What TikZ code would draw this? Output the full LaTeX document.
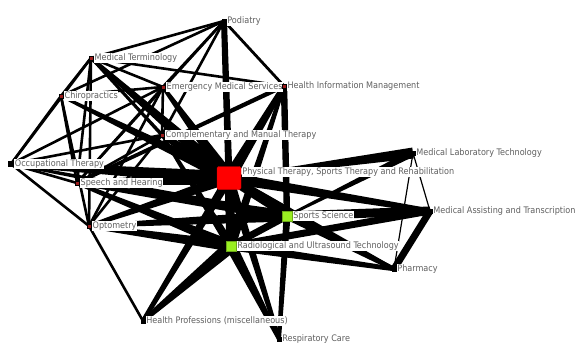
\documentclass[tikz,border=0pt]{standalone}
\usepackage{fontspec}
\setmainfont{DejaVu Sans Condensed}
\usetikzlibrary{calc}
\pgfdeclarelayer{back}
\pgfdeclarelayer{bg}
\pgfsetlayers{back,bg,main}
\definecolor{lblgray}{HTML}{606060}
\definecolor{dotred}{HTML}{9A1B1B}
\definecolor{ptred}{HTML}{FF0000}
\definecolor{lime}{HTML}{99EE22}
\tikzset{
  mk/.style={rectangle, draw=black, line width=0.4pt, fill=dotred, minimum size=4.5pt, inner sep=0pt},
  mkb/.style={rectangle, draw=black, line width=0.4pt, fill=black, minimum size=4pt, inner sep=0pt},
  mkg/.style={rectangle, draw=lime!70!black, line width=0.4pt, fill=lime, minimum size=10pt, inner sep=0pt},
  mkr/.style={rectangle, rounded corners=1.5pt, draw=ptred!80!black, line width=0.4pt, fill=ptred, minimum width=24pt, minimum height=23pt, inner sep=0pt},
  lbl/.style={font=\fontsize{9.0}{10}\selectfont, text=lblgray, fill=white, inner sep=0.5pt, label distance=0.5pt},
  edgefill/.style={fill=black},
}
\newcommand\tedge[4]{\fill[edgefill] ($(#1)!#3pt!90:(#2)$) -- ($(#2)!#4pt!-90:(#1)$) -- ($(#2)!#4pt!90:(#1)$) -- ($(#1)!#3pt!-90:(#2)$) -- cycle;}
\begin{document}
\begin{tikzpicture}[x=1pt,y=-1pt]
\begin{pgfonlayer}{back}
\fill[white] (0,0) rectangle (578,345);
\end{pgfonlayer}
\useasboundingbox (0,0) rectangle (578,345);
% nodes
\node[mkb, label={[lbl]east:Podiatry}] (pod) at (224,21) {};
\node[mk, label={[lbl]east:Medical Terminology}] (mt) at (91,58) {};
\node[mk, label={[lbl]east:Chiropractics}] (chi) at (61,96) {};
\node[mk, label={[lbl]east:Emergency Medical Services}] (ems) at (163,87) {};
\node[mk, label={[lbl]east:Health Information Management}] (him) at (284,86) {};
\node[mk, label={[lbl]east:Complementary and Manual Therapy}] (cmt) at (162,135) {};
\node[mkb, minimum size=5pt, label={[lbl]east:Occupational Therapy}] (ot) at (11,164) {};
\node[mkr, label={[lbl, yshift=6pt]east:Physical Therapy, Sports Therapy and Rehabilitation}] (pt) at (229,178) {};
\node[mk, label={[lbl]east:Speech and Hearing}] (sh) at (77,183) {};
\node[mk, label={[lbl]east:Optometry}] (opt) at (89,226) {};
\node[mkg, label={[lbl]east:Sports Science}] (ss) at (287,216) {};
\node[mkg, label={[lbl]east:Radiological and Ultrasound Technology}] (rad) at (231,246) {};
\node[mkb, label={[lbl]east:Medical Laboratory Technology}] (mlt) at (413,153) {};
\node[mkb, label={[lbl]east:Medical Assisting and Transcription}] (mat) at (430,211) {};
\node[mkb, label={[lbl]east:Pharmacy}] (ph) at (394,269) {};
\node[mkb, label={[lbl]east:Health Professions (miscellaneous)}] (hp) at (143,321) {};
\node[mkb, label={[lbl]east:Respiratory Care}] (rc) at (279,339) {};
% edges
\begin{pgfonlayer}{bg}
\tedge{pod}{pt}{3}{3.5}
\tedge{pod}{mt}{1.3}{1.3}
\tedge{pod}{chi}{1.3}{1.3}
\tedge{pod}{ems}{1.3}{1.5}
\tedge{pod}{cmt}{1.3}{1.3}
\tedge{pod}{him}{1.4}{1.4}
\tedge{pod}{sh}{1.3}{1.3}
\tedge{mt}{chi}{1.3}{1.3}
\tedge{mt}{ems}{1.3}{1.3}
\tedge{mt}{him}{1.3}{1.3}
\tedge{mt}{ot}{1.3}{1.3}
\tedge{mt}{sh}{1.3}{1.3}
\tedge{mt}{opt}{1.3}{1.3}
\tedge{mt}{cmt}{1.3}{1.8}
\tedge{mt}{pt}{1.8}{7}
\tedge{chi}{ot}{1.3}{1.3}
\tedge{chi}{ems}{1.3}{1.3}
\tedge{chi}{sh}{1.3}{1.3}
\tedge{chi}{opt}{1.3}{1.3}
\tedge{chi}{pt}{1.3}{6}
\tedge{ems}{ot}{1.3}{1.3}
\tedge{ems}{sh}{1.3}{1.3}
\tedge{ems}{opt}{1.3}{1.3}
\tedge{ems}{cmt}{1.3}{1.3}
\tedge{ems}{pt}{1.8}{6.5}
\tedge{cmt}{pt}{2.5}{7.5}
\tedge{cmt}{ot}{1.3}{1.3}
\tedge{cmt}{sh}{1.3}{1.3}
\tedge{cmt}{opt}{1.3}{1.3}
\tedge{cmt}{rad}{1.3}{4.5}
\tedge{ot}{pt}{2.5}{7}
\tedge{ot}{opt}{1.3}{1.3}
\tedge{ot}{sh}{1.3}{1.3}
\tedge{ot}{ss}{1.3}{3.5}
\tedge{sh}{pt}{2.5}{6.5}
\tedge{sh}{ss}{1.8}{5.5}
\tedge{sh}{rad}{1.8}{5.5}
\tedge{sh}{him}{1.8}{2.2}
\tedge{opt}{pt}{1.8}{5.5}
\tedge{opt}{ss}{1.8}{5.5}
\tedge{opt}{rad}{2.2}{5.5}
\tedge{opt}{hp}{1.3}{1.3}
\tedge{him}{pt}{2.5}{6}
\tedge{him}{ss}{3.2}{3.2}
\tedge{him}{rad}{1.8}{4.5}
\tedge{mlt}{pt}{5.5}{1.2}
\tedge{mlt}{ss}{3.5}{1.2}
\tedge{mlt}{mat}{0.6}{0.6}
\tedge{mlt}{ph}{0.6}{0.6}
\tedge{pt}{mat}{5.5}{2.5}
\tedge{pt}{ph}{4.5}{1.8}
\tedge{pt}{ss}{4.5}{3.5}
\tedge{pt}{rad}{4.5}{4.5}
\tedge{ss}{mat}{4.5}{4.5}
\tedge{ss}{ph}{3.5}{2.2}
\tedge{ss}{rad}{3.5}{3.5}
\tedge{rad}{mat}{3.5}{3.5}
\tedge{rad}{ph}{4.5}{2.2}
\tedge{mat}{ph}{3.5}{3.5}
\tedge{hp}{rad}{2.2}{6.5}
\tedge{hp}{pt}{2.2}{4.5}
\tedge{rc}{rad}{2}{5.5}
\tedge{rc}{pt}{2}{4.5}
\tedge{rc}{ss}{2}{3.5}
\end{pgfonlayer}
\end{tikzpicture}
\end{document}
